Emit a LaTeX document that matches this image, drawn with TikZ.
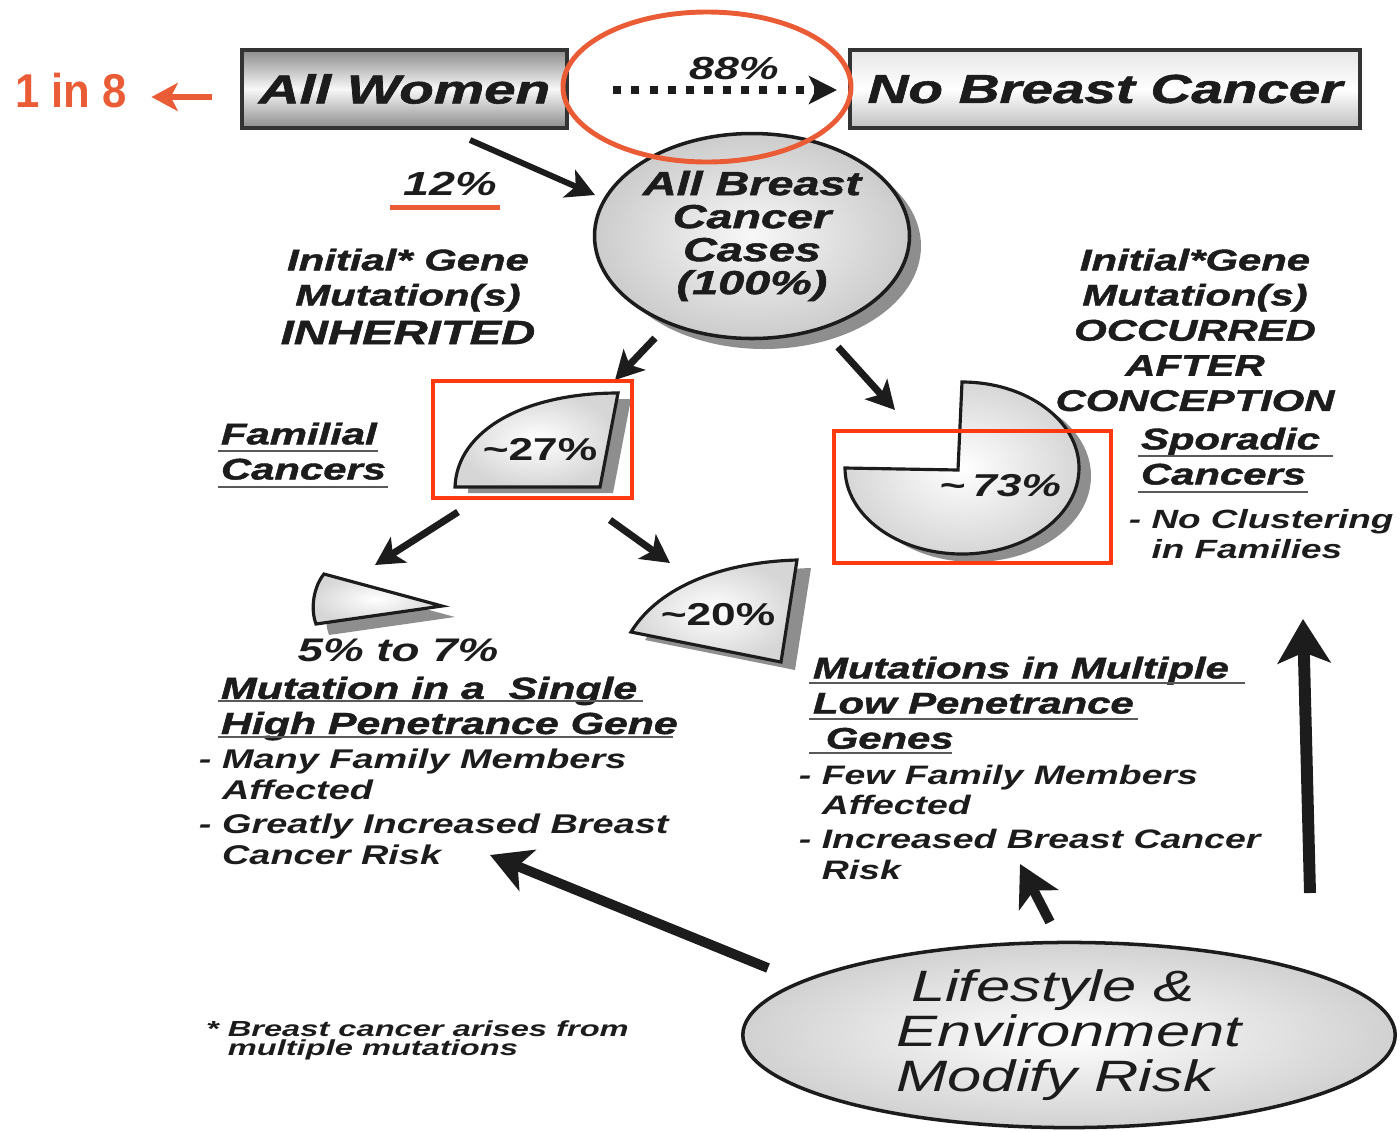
\documentclass[tikz,border=0pt]{standalone}
\usepackage{fontspec}
\setmainfont{Liberation Sans}
\newfontfamily\headfont{Liberation Sans}[BoldItalicFeatures={FakeBold=1.3}]
\usetikzlibrary{positioning, arrows.meta, calc, shapes.geometric}
\definecolor{ink}{HTML}{1C1C1C}
\definecolor{annot}{HTML}{EA5C36}
\definecolor{hilite}{HTML}{FF3A10}
\definecolor{shadowgray}{HTML}{8E8E8E}

\begin{document}
\begin{tikzpicture}[
    head/.style={font=\headfont\fontsize{8.5}{10}\selectfont\bfseries\itshape, text=ink, xscale=1.4, inner sep=0pt},
    desc/.style={font=\fontsize{7.7}{8.8}\selectfont\bfseries\itshape, text=ink, xscale=1.4, inner sep=0pt,
                 align=left, anchor=north west},
    pct/.style={font=\fontsize{9}{10}\selectfont\bfseries, text=ink, xscale=1.4, inner sep=0pt},
    topbox/.style={rectangle, draw=black!80, line width=1.3pt, minimum height=0.78cm, inner sep=0pt, xscale=1.4,
                   font=\headfont\fontsize{11.5}{12}\selectfont\bfseries\itshape, text=ink},
    bubble/.style={ellipse, draw=ink, line width=1pt, inner sep=0pt, xscale=1.4, text=ink},
    wedge/.style={draw=ink, line width=0.9pt, inner color=white, outer color=black!16},
    uline/.style={draw=black!65, line width=0.8pt},
    flow/.style={draw=ink, line width=2pt, -{Stealth[length=8pt, width=8.5pt, inset=2pt]}},
    bigflow/.style={draw=ink, line width=2.8pt, -{Stealth[length=11.5pt, width=12.5pt, inset=3pt]}},
]
    \useasboundingbox (0,0) rectangle (14,-11.31);

    % --- top row ---
    \node[font=\fontsize{13.5}{14}\selectfont\bfseries, text=annot, xscale=0.92, inner sep=0pt] (oneineight) at (0.71,-0.91) {1 in 8};
    \node[topbox, top color=black!45, bottom color=black!45, middle color=black!3, minimum width=2.32cm] (women) at (4.045,-0.89) {All Women};
    \node[topbox, top color=black!10, bottom color=black!25, middle color=white, minimum width=3.64cm] (nobc) at (11.05,-0.89) {No Breast Cancer};
    \node[pct, font=\fontsize{9.1}{10}\selectfont\bfseries\itshape] (p88) at (7.34,-0.68) {88\%};

    \draw[line width=2.3pt, dash pattern=on 2.3pt off 2.9pt, draw=ink, -{Stealth[length=8pt, width=8pt, inset=2pt]}]
      ($(women.east)+(0.43,-0.01)$) -- ($(nobc.west)+(-0.10,-0.01)$);
    \draw[annot, line width=1.7pt, -{Stealth[length=7.5pt, width=8pt, inset=2pt]}]
      ($(women.west)+(-0.27,-0.08)$) -- ($(oneineight.east)+(0.24,-0.06)$);

    % --- all cases ---
    \fill[shadowgray] (7.64,-2.46) ellipse [x radius=1.57, y radius=1.03];
    \node[bubble, align=center, inner color=black!3, outer color=black!20, minimum width=2.25cm, minimum height=2.05cm,
          font=\headfont\fontsize{9.5}{9.4}\selectfont\bfseries\itshape] (allbc) at (7.52,-2.36)
          {All Breast\\Cancer\\Cases\\(100\%)};

    \node[pct, font=\fontsize{9.5}{10}\selectfont\bfseries\itshape] (p12) at (4.50,-1.84) {12\%};
    \draw[annot, line width=1.2pt] ($(p12.south)+(-0.60,-0.11)$) -- ++(1.10,0);

    \node[head, align=center, anchor=north] (inherit) at (4.08,-2.48)
      {Initial* Gene\\Mutation(s)\\[1pt]{\fontsize{9.6}{10}\selectfont INHERITED}};
    \node[head, align=center, anchor=north] (occur) at (11.95,-2.48)
      {Initial*Gene\\Mutation(s)\\OCCURRED\\AFTER\\CONCEPTION};

    % --- pie pieces ---
    \fill[shadowgray, shift={(0.13,-0.06)}] (6.00,-4.87) -- (4.55,-4.87) .. controls (4.57,-4.30) and (5.25,-3.93) .. (6.18,-3.93) -- cycle;
    \draw[wedge] (6.00,-4.87) -- (4.55,-4.87) .. controls (4.57,-4.30) and (5.25,-3.93) .. (6.18,-3.93) -- cycle;

    \fill[shadowgray, shift={(0.12,-0.08)}] (9.58,-4.70) -- (9.62,-3.82) arc[start angle=90, end angle=-180, x radius=1.17, y radius=0.86] -- cycle;
    \draw[wedge] (9.58,-4.70) -- (9.62,-3.82) arc[start angle=90, end angle=-180, x radius=1.17, y radius=0.86] -- cycle;

    \fill[shadowgray, shift={(0.14,-0.08)}] (6.31,-6.32) -- (7.81,-6.62) -- (7.97,-5.60) .. controls (7.25,-5.62) and (6.60,-5.85) .. (6.31,-6.32) -- cycle;
    \draw[wedge] (6.31,-6.32) -- (7.81,-6.62) -- (7.97,-5.60) .. controls (7.25,-5.62) and (6.60,-5.85) .. (6.31,-6.32) -- cycle;

    \fill[shadowgray, shift={(0.13,-0.11)}] (3.24,-5.74) -- (4.42,-6.06) -- (3.16,-6.24) .. controls (3.10,-6.08) and (3.14,-5.86) .. (3.24,-5.74) -- cycle;
    \draw[wedge] (3.24,-5.74) -- (4.42,-6.06) -- (3.16,-6.24) .. controls (3.10,-6.08) and (3.14,-5.86) .. (3.24,-5.74) -- cycle;

    \node[pct] (p27) at (5.40,-4.50) {\textasciitilde 27\%};
    \node[pct] (p20) at (7.18,-6.15) {\textasciitilde 20\%};
    \node[pct, font=\fontsize{9}{10}\selectfont\bfseries\itshape] (p73) at (10.00,-4.86) {\textasciitilde\,73\%};

    % --- labels ---
    \node[head, align=left, anchor=north west] (familial) at (2.20,-4.22) {Familial\\Cancers};
    \draw[uline] (2.18,-4.51) -- (3.78,-4.51);
    \draw[uline] (2.18,-4.87) -- (3.88,-4.87);

    \node[head, align=left, anchor=north west] (sporadic) at (11.40,-4.27) {Sporadic\\Cancers};
    \draw[uline] (11.38,-4.56) -- (13.33,-4.56);
    \draw[uline] (11.38,-4.92) -- (13.08,-4.92);
    \node[desc, font=\fontsize{7.5}{8.5}\selectfont\bfseries\itshape] (noclust) at (11.28,-5.09)
      {- No Clustering\\\hphantom{- }in Families};

    \node[pct, font=\fontsize{9.3}{10}\selectfont\bfseries\itshape] (range) at (3.98,-6.50) {5\% to 7\%};
    \node[head, font=\headfont\fontsize{8.7}{10}\selectfont\bfseries\itshape, align=left, anchor=north west] (single) at (2.20,-6.76)
      {Mutation in a\ \ Single\\High Penetrance Gene};
    \draw[uline] (2.18,-7.01) -- (6.43,-7.01);
    \draw[uline] (2.18,-7.37) -- (6.73,-7.37);
    \node[desc] (descleft) at (1.98,-7.48)
      {- Many Family Members\\\hphantom{- }Affected\\[1pt]- Greatly Increased Breast\\\hphantom{- }Cancer Risk};

    \node[head, align=left, anchor=north west] (multiple) at (8.12,-6.56)
      {Mutations in Multiple\\Low Penetrance\\\hspace*{2.6pt}Genes};
    \draw[uline] (8.09,-6.83) -- (12.45,-6.83);
    \draw[uline] (8.09,-7.19) -- (11.38,-7.19);
    \draw[uline] (8.09,-7.53) -- (9.52,-7.53);
    \node[desc, font=\fontsize{7.6}{8.7}\selectfont\bfseries\itshape] (descmid) at (7.98,-7.64)
      {- Few Family Members\\\hphantom{- }Affected\\[1pt]- Increased Breast Cancer\\\hphantom{- }Risk};

    \node[desc, font=\fontsize{6.2}{5.4}\selectfont\bfseries\itshape, xscale=1.07] (note) at (2.05,-10.20)
      {* Breast cancer arises from\\\hphantom{* }multiple mutations};

    % --- modifiers ---
    \node[bubble, align=left, inner color=white, outer color=black!18, minimum width=4.66cm, minimum height=1.84cm,
          font=\fontsize{12.5}{12.8}\selectfont\itshape] (life) at (10.69,-10.35)
          {\hspace*{3pt}Lifestyle \&\\Environment\\Modify Risk};

    % --- arrows ---
    \draw[flow, line width=1.7pt] ($(women)+(0.655,-0.51)$) -- ($(allbc)+(-1.57,0.41)$);
    \draw[flow] ($(allbc)+(-0.97,-1.02)$) -- ($(p27)+(0.75,0.70)$);
    \draw[flow] ($(allbc)+(0.86,-1.11)$) -- ($(p73)+(-1.05,0.76)$);
    \draw[flow] ($(p27)+(-0.82,-0.62)$) -- ($(range)+(-0.23,0.85)$);
    \draw[flow] ($(p27)+(0.70,-0.70)$) -- ($(p20)+(-0.48,0.52)$);
    \draw[bigflow] ($(life)+(-3.01,0.67)$) -- ($(descleft.north west)+(2.92,-1.07)$);
    \draw[bigflow] ($(life)+(-0.19,1.13)$) -- ($(descmid.north west)+(2.22,-1.00)$);
    \draw[bigflow, line width=3.4pt, -{Stealth[length=12.5pt, width=15pt, inset=3pt]}]
      ($(life)+(2.41,1.42)$) -- ($(noclust.north west)+(1.75,-1.10)$);

    % --- highlights ---
    \draw[annot, line width=1.4pt] (7.07,-0.87) ellipse [x radius=1.44, y radius=0.75];
    \draw[hilite, line width=1.4pt] (4.33,-3.81) rectangle (6.32,-4.98);
    \draw[hilite, line width=1.4pt] (8.34,-4.31) rectangle (11.11,-5.63);
\end{tikzpicture}
\end{document}
